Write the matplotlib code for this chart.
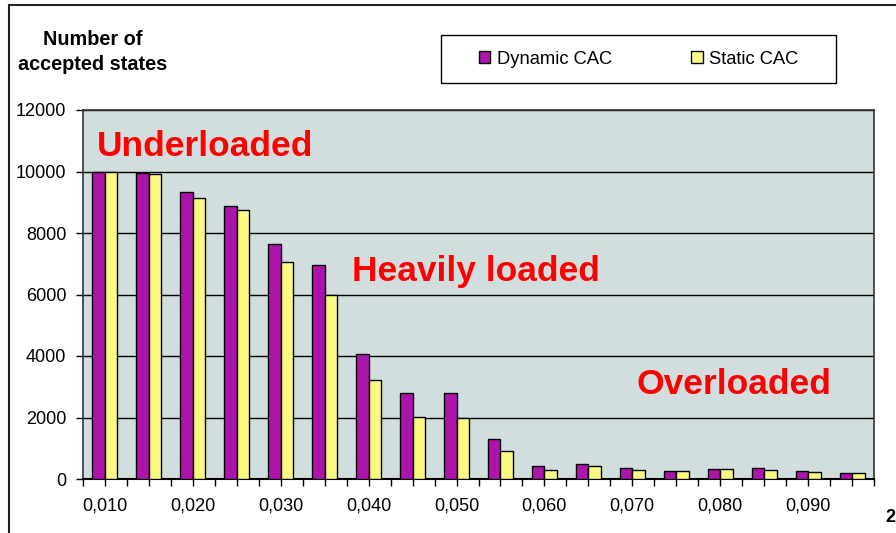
import numpy as np
import matplotlib.pyplot as plt
from matplotlib.patches import Rectangle

plt.rcParams['font.family'] = ['Liberation Sans', 'DejaVu Sans']

# load levels 0,010 ... 0,095
loads = ["0,010", "0,015", "0,020", "0,025", "0,030", "0,035", "0,040", "0,045", "0,050",
         "0,055", "0,060", "0,065", "0,070", "0,075", "0,080", "0,085", "0,090", "0,095"]
dynamic_cac = [10000, 9960, 9330, 8880, 7640, 6960, 4080, 2800, 2810,
               1300, 410, 500, 360, 270, 310, 360, 270, 185]
static_cac = [10000, 9910, 9140, 8760, 7070, 6000, 3220, 2030, 1970,
              920, 300, 420, 300, 270, 310, 300, 225, 185]

fig = plt.figure(figsize=(8.96, 5.33), dpi=100)
W, H = 896, 533
ax = fig.add_axes([83 / W, (H - 479) / H, (874 - 83) / W, (479 - 110) / H])
ax.set_facecolor('#D2DEDE')

x = np.arange(len(loads))
bw = 0.285
ax.bar(x - bw / 2, dynamic_cac, bw, color='#AC14AC', edgecolor='black', linewidth=1,
       label='Dynamic CAC', zorder=3)
ax.bar(x + bw / 2, static_cac, bw, color='#FAFA82', edgecolor='black', linewidth=1,
       label='Static CAC', zorder=3)

ax.set_xlim(-0.5, len(loads) - 0.5)
ax.set_ylim(0, 12000)
ax.set_yticks(range(0, 12001, 2000))
ax.yaxis.grid(True, color='black', linewidth=1, zorder=1)
ax.set_axisbelow(True)

ax.set_xticks(x)
ax.set_xticklabels([l if i % 2 == 0 else '' for i, l in enumerate(loads)])
ax.set_xticks(np.arange(-0.5, len(loads)), minor=True)
ax.tick_params(axis='both', which='both', direction='out', length=5, width=1,
               labelsize=13, colors='black')
ax.tick_params(axis='x', pad=8)
ax.tick_params(axis='y', pad=7)
for s in ax.spines.values():
    s.set_color('#333333')
    s.set_linewidth(1.2)
ax.spines['bottom'].set_color('black')
ax.spines['bottom'].set_linewidth(1.5)

# load regions
red = dict(transform=ax.transAxes, color='red', fontsize=25.5, fontweight='bold',
           va='center', ha='left')
ax.text((97 - 83) / 791, (479 - 146) / 369, 'Underloaded', **red)
ax.text((352 - 83) / 791, (479 - 271) / 369, 'Heavily loaded', **red)
ax.text((636 - 83) / 791, (479 - 384) / 369, 'Overloaded', **red)

fig.text(93 / W, 1 - 52 / H, 'Number of\naccepted states', ha='center', va='center',
         fontsize=14.3, fontweight='bold', linespacing=1.45)

# legend, framed by a separate box
fig.add_artist(Rectangle((441 / W, 1 - 83 / H), (836 - 441) / W, 48 / H,
                         transform=fig.transFigure, facecolor='white',
                         edgecolor='black', linewidth=1))
leg = fig.legend(loc='center', bbox_to_anchor=(638.5 / W, 1 - 59 / H), ncol=2,
                 fontsize=13.2, frameon=False,
                 handlelength=0.65, handleheight=0.65, handletextpad=0.35,
                 columnspacing=4.3, borderpad=0, borderaxespad=0)

# outer chart border
fig.add_artist(Rectangle((9 / W, -0.2), 1.2, 1.2 - 5 / H, transform=fig.transFigure,
                         fill=False, edgecolor='#222222', linewidth=1.5))
fig.text(885 / W, 1 - 518 / H, '2', fontsize=13, fontweight='bold', va='center', ha='left')

fig.savefig('out.png', dpi=100)
